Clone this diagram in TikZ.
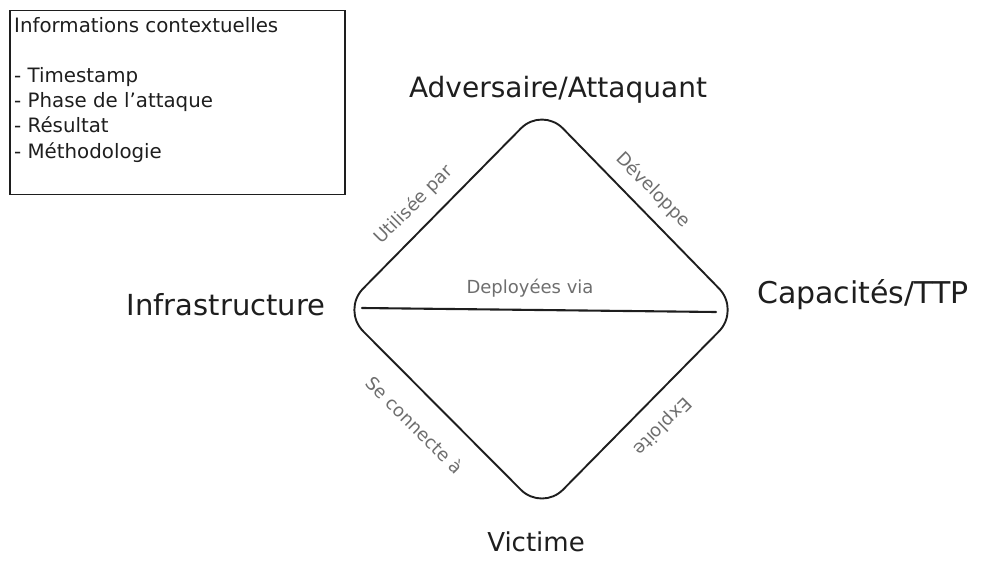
\documentclass[tikz,border=0pt]{standalone}
\usepackage{fontspec}
\setmainfont{DejaVu Sans}
\definecolor{inkc}{HTML}{1E1E1E}
\definecolor{labc}{HTML}{6E6E6E}
\begin{document}
\begin{tikzpicture}[x=1pt,y=-1pt,
  boxtxt/.style={anchor=base west,inner sep=0pt,text=inkc,font=\fontsize{19.8}{23}\selectfont},
  title/.style={anchor=base,inner sep=0pt,text=inkc,font=\fontsize{28}{32}\selectfont},
  rel/.style={inner sep=0pt,text=labc,font=\fontsize{18}{22}\selectfont},
  edge/.style={draw=inkc,line width=1.9pt,line join=round,line cap=round}]
\useasboundingbox (0,0) rectangle (981,569);
% info box
\node[draw=inkc,line width=1.5pt,minimum width=335pt,minimum height=184pt,anchor=north west,inner sep=0pt] (info) at (9,10) {};
\node[boxtxt] (i1) at (14,33) {Informations contextuelles};
\node[boxtxt] (i2) at (14,83) {- Timestamp};
\node[boxtxt] (i3) at (14,108) {- Phase de l'attaque};
\node[boxtxt] (i4) at (14,133) {- Résultat};
\node[boxtxt] (i5) at (14,159) {- Méthodologie};
% diamond
\coordinate (top) at (542,107);
\coordinate (right) at (740,310);
\coordinate (bottom) at (542,511);
\coordinate (left) at (342,310);
\draw[edge,rounded corners=30pt] (top) -- (right) -- (bottom) -- (left) -- cycle;
\coordinate (hl) at (362,308);
\coordinate (hr) at (716,312);
\draw[edge,line width=2.1pt] (hl) -- (hr);
% titles
\node[title] (adv) at (558,98) {Adversaire/Attaquant};
\node[title,font=\fontsize{29}{32}\selectfont] (inf) at (226,315) {Infrastructure};
\node[title,font=\fontsize{30}{32}\selectfont] (cap) at (863,303) {Capacités/TTP};
\node[title,font=\fontsize{26}{32}\selectfont] (vic) at (536,551) {Victime};
% relation labels
\node[rel,anchor=base] (dep) at (530,293) {Deployées via};
\node[rel,rotate=45] (uti) at (414,205) {Utilisée par};
\node[rel,rotate=-45] (dev) at (653,190) {Développe};
\node[rel,rotate=-45] (con) at (415,425) {Se connecte à};
\node[rel,rotate=225] (exp) at (662,426) {Exploite};
\end{tikzpicture}
\end{document}
